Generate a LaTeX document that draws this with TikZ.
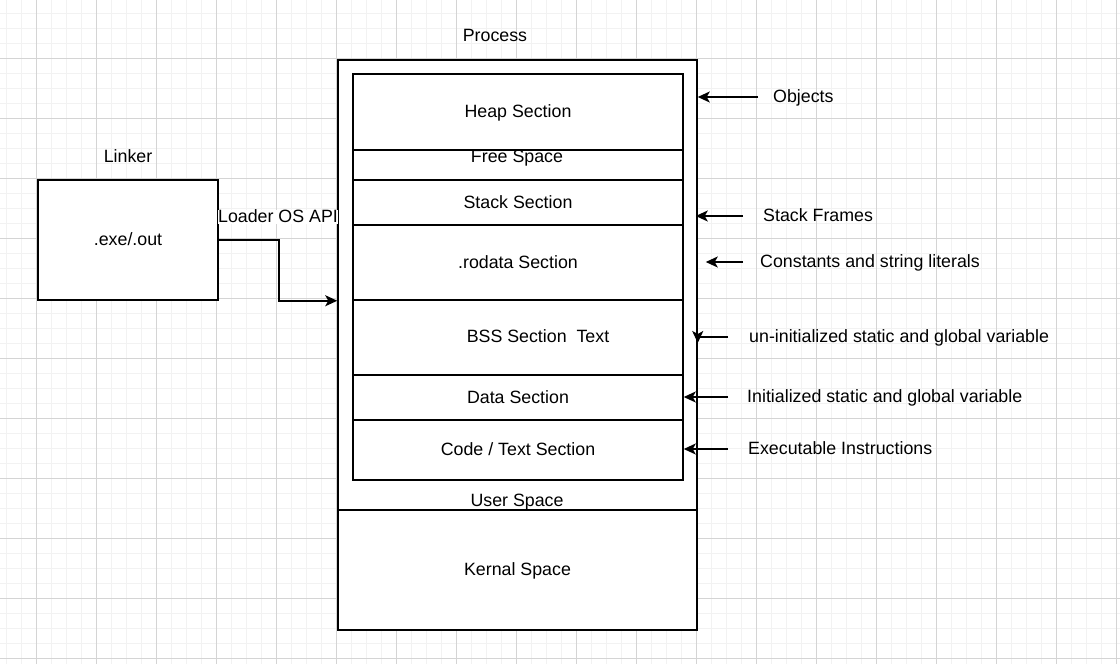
\documentclass[tikz,border=0pt]{standalone}
\usepackage{fontspec}
\setmainfont{Liberation Sans}
\usetikzlibrary{arrows.meta}
\tikzset{
	gridminor/.style={line width=0.8pt, color=black!5},
	gridmajor/.style={line width=0.8pt, color=black!17},
	box/.style={draw, line width=1.5pt, inner sep=0pt, fill=white},
	lbl/.style={inner sep=0pt},
	conn/.style={line width=1.5pt, -{Stealth[length=12pt, width=11pt, inset=3pt]}},
}
\begin{document}
\begin{tikzpicture}[x=1pt, y=-1pt, every node/.style={font=\fontsize{17.8}{21}\selectfont, text height=12.8pt, text depth=1.5pt}]
		%%%%% START %%%%%
		\useasboundingbox (0,0) rectangle (1120,664);
		\fill[white] (0,0) rectangle (1120,664);
		
		% background grid
		\foreach \gx in {6,21,...,1116} \draw[gridminor] (\gx,0) -- (\gx,664);
		\foreach \gy in {13,28,...,658} \draw[gridminor] (0,\gy) -- (1120,\gy);
		\foreach \gx in {36,96,...,1116} \draw[gridmajor] (\gx,0) -- (\gx,664);
		\foreach \gy in {58,118,...,658} \draw[gridmajor] (0,\gy) -- (1120,\gy);
		
		% process
		\node[box, minimum width=359pt, minimum height=570pt] (process) at (517.5,345) {};
		\node[lbl] (processlbl) at (495,36) {Process};
		\node[box, minimum width=359pt, minimum height=120pt] (kernel) at (517.5,570) {Kernal Space};
		\node[lbl] (user) at (517,501) {User Space};
		
		% sections
		\node[box, minimum width=330pt, minimum height=76pt] (heap) at (518,112) {Heap Section};
		\node[box, minimum width=330pt, minimum height=30pt] (free) at (518,165) {};
		\node[lbl] (freelbl) at (517,157) {Free Space};
		\node[box, minimum width=330pt, minimum height=45pt] (stack) at (518,202.5) {Stack Section};
		\node[box, minimum width=330pt, minimum height=75pt] (rodata) at (518,262.5) {.rodata Section};
		\node[box, minimum width=330pt, minimum height=75pt] (bss) at (518,337.5) {};
		\node[lbl] (bsslbl) at (538,337) {BSS Section\ \ Text};
		\node[box, minimum width=330pt, minimum height=45pt] (data) at (518,397.5) {Data Section};
		\node[box, minimum width=330pt, minimum height=60pt] (code) at (518,450) {Code / Text Section};
		
		% linker
		\node[box, minimum width=180pt, minimum height=120pt] (linker) at (128,240) {.exe/.out};
		\node[lbl] (linkerlbl) at (128,157) {Linker};
		\node[lbl, fill=white] (loader) at (278,217) {Loader OS API};
		\draw[conn] (linker.east) -- ++(60,0) |- (process.west |- rodata.south);
		
		% notes on the right
		\node[lbl, anchor=west] (objects) at (773,97) {Objects};
		\node[lbl, anchor=west] (frames) at (763,216) {Stack Frames};
		\node[lbl, anchor=west] (consts) at (760,262) {Constants and string literals};
		\node[lbl, anchor=west] (uninit) at (749,337) {un-initialized static and global variable};
		\node[lbl, anchor=west] (init) at (747,397) {Initialized static and global variable};
		\node[lbl, anchor=west] (exec) at (748,449) {Executable Instructions};
		
		\draw[conn] ([xshift=-15pt]objects.west) -- (process.east |- objects.west);
		\draw[conn] ([xshift=-20pt]frames.west) -- ([xshift=-2pt]process.east |- frames.west);
		\draw[conn] ([xshift=-17pt]consts.west) -- ([xshift=8pt]process.east |- consts.west);
		\draw[conn] ([xshift=-21pt]uninit.west) -| ([yshift=-6pt]process.east |- uninit.west);
		\draw[conn] ([xshift=-19pt]init.west) -- (data.east |- init.west);
		\draw[conn] ([xshift=-20pt]exec.west) -- (code.east |- exec.west);
		%%%%% END %%%%%
\end{tikzpicture}
\end{document}
